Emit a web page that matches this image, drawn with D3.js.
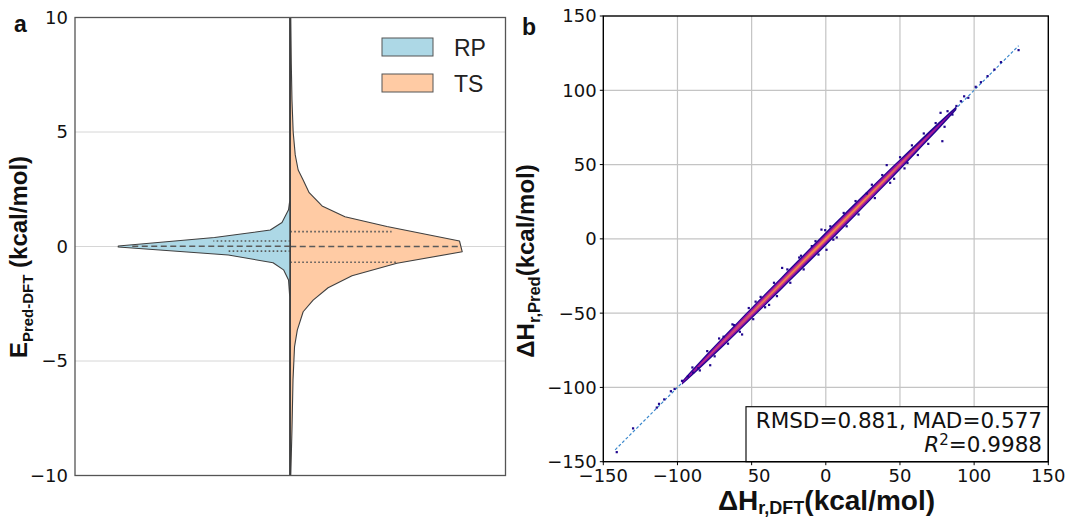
<!DOCTYPE html>
<html lang="en">
<head>
<meta charset="UTF-8">
<title>Violin and parity plot</title>
<script src="https://d3js.org/d3.v7.min.js"></script>
<style>
  body { margin: 0; background: #fff; }
  .tick-label { font-family: "DejaVu Sans", sans-serif; font-size: 18px; fill: #111; }
  .axis-title { font-family: "Liberation Sans", Arial, sans-serif; font-weight: bold; fill: #111; }
</style>
</head>
<body>
<svg id="chart" width="1068" height="518"></svg>
<script>
// ---- panel a: split violin (RP left, TS right) ----
const rpValues  = [10, 2.0, 1.6, 1.05, 0.72, 0.39, 0.02, -0.02, -0.37, -0.71, -1.02, -1.46, -2.2, -10];
const rpDensity = [0.003, 0.003, 0.01, 0.048, 0.116, 0.44, 1.0, 1.0, 0.36, 0.1, 0.039, 0.01, 0.003, 0.003];
const tsValues  = [10, 8, 6.4, 5, 4, 3.34, 2.9, 2.35, 1.77, 1.30, 0.87, 0.24, -0.23, -0.73, -1.28, -1.8, -2.34, -2.85, -3.65, -4.37, -5.83, -8, -10];
const tsDensity = [0.003, 0.006, 0.010, 0.017, 0.029, 0.046, 0.075, 0.11, 0.185, 0.318, 0.562, 0.984, 1.0, 0.62, 0.359, 0.22, 0.133, 0.075, 0.041, 0.025, 0.016, 0.010, 0.003];
const rpQuartiles = [0.24, 0.01, -0.2];
const rpQuartDensity = [0.447, 0.93, 0.36];
const tsQuartiles = [0.65, 0.0, -0.69];
const tsQuartDensity = [0.589, 0.984, 0.618];
const violinTicks = [-10, -5, 0, 5, 10];
const violinGroups = ["RP", "TS"];

// ---- panel b: parity plot ----
const parityTicks = [-150, -100, -50, 0, 50, 100, 150];
const parityXTickLabels = ["\u2212150", "\u2212100", "50", "0", "50", "100", "150"];
const parityYTickLabels = ["\u2212150", "\u2212100", "\u221250", "0", "50", "100", "150"];
const bandX      = [-97, -90, -80, -70, -60, -50, -40, -30, -20, -10, 0, 10, 20, 30, 40, 50, 60, 70, 80, 88];
const navyHalf   = [1.2, 2.0, 2.8, 3.3, 3.6, 3.8, 4.0, 4.2, 4.4, 4.5, 4.6, 4.5, 4.4, 4.2, 4.0, 3.6, 3.2, 2.7, 2.0, 1.2];
const purpleHalf = [0.3, 0.9, 1.6, 2.2, 2.6, 2.8, 3.0, 3.1, 3.2, 3.3, 3.3, 3.3, 3.2, 3.1, 2.9, 2.5, 1.9, 1.3, 0.6, 0];
const pinkHalf   = [0, 0, 0.5, 1.0, 1.4, 1.6, 1.8, 1.9, 2.0, 2.1, 2.1, 2.1, 2.0, 1.9, 1.7, 1.3, 0.8, 0.3, 0, 0];
const orangeHalf = [0, 0, 0, 0, 0, 0.3, 0.5, 0.7, 0.8, 0.9, 0.9, 0.9, 0.8, 0.7, 0.5, 0.2, 0, 0, 0, 0];
const sparseDFT  = [-141, -130, -114, -112.5, -109, -104.5, -102, -97, -93, -89.5, -86, -78, -69, -62, -56.5, -47.4, -38.3, -29.5, -16.8, -9.5, 0.4, -0.5, 7.3, -3, 27.6, 41, 43.3, 55, 77.3, 78.5, 85.3, 88, 91, 93.2, 96, 101, 104.5, 109, 113.6, 118, 129.9,
                    -90, -85, -80, -75, -72, -66, -63, -58, -52, -49, -44, -41, -35, -33, -26, -24, -18, -15, -7, -5, 3, 5, 12, 14, 20, 22, 31, 33, 38, 46, 50, 53, 58, 62, 66, 69, 74, 80, 82];
const sparsePred = [-143.5, -127.5, -113.5, -111, -108, -102.5, -101, -95.5, -92.5, -90, -87, -85, -65.8, -58, -64.3, -42.2, -44.4, -19.5, -11.3, -4.8, -7.3, 5.9, 1, 6.3, 30.6, 49.7, 37.8, 51.2, 84.9, 65.8, 83.7, 89.5, 92.7, 96, 95, 102.4, 105.5, 109.6, 114, 119, 127.1,
                    -86.5, -88.5, -75.5, -79, -67, -70.5, -57.5, -62.5, -46.5, -54, -39, -46, -29.5, -38.5, -20.5, -29.5, -12.5, -20.5, -1.5, -10.5, 8.5, -0.5, 17.5, 8.5, 25.5, 16.5, 36.5, 27.5, 43, 40.5, 55, 47.5, 63, 56.5, 71, 64, 78, 75.5, 86];
const parityLine = [-142, 130];

const svg = d3.select("#chart");

// ================= panel a =================
const aLeft = 75, aRight = 505.5, aTop = 17.5, aBottom = 475.5;
const yA = d3.scaleLinear().domain([-10, 10]).range([aBottom, aTop]);
const cx = (aLeft + aRight) / 2;
const wA = d3.scaleLinear().domain([0, 1]).range([0, 172]);

const ga = svg.append("g");
ga.selectAll(".grid").data([-5, 0, 5]).enter().append("line")
  .attr("x1", aLeft).attr("x2", aRight)
  .attr("y1", d => yA(d)).attr("y2", d => yA(d))
  .attr("stroke", "#d6d6d6").attr("stroke-width", 1);

function halfViolin(vals, dens, side, fill) {
  const pts = vals.map((v, i) => ({ v: v, d: dens[i] }));
  const area = d3.area()
    .y(d => yA(d.v))
    .x0(cx)
    .x1(d => cx + side * wA(d.d));
  ga.append("path").datum(pts)
    .attr("d", area)
    .attr("fill", fill)
    .attr("stroke", "#3f3f3f")
    .attr("stroke-width", 1.1)
    .attr("stroke-linejoin", "round");
}
halfViolin(rpValues, rpDensity, -1, "#add8e6");
halfViolin(tsValues, tsDensity, 1, "#ffcba4");

function quartileLines(qs, qd, side) {
  ga.selectAll(null).data(qs).enter().append("line")
    .attr("x1", cx).attr("x2", (d, i) => cx + side * wA(qd[i]))
    .attr("y1", d => yA(d)).attr("y2", d => yA(d))
    .attr("stroke", "#5a5a5a").attr("stroke-width", 1.6)
    .attr("stroke-dasharray", (d, i) => i === 1 ? "6,3.5" : "1.6,2.4");
}
quartileLines(rpQuartiles, rpQuartDensity, -1);
quartileLines(tsQuartiles, tsQuartDensity, 1);

// center line drawn by the thin tails
ga.append("line").attr("x1", cx).attr("x2", cx)
  .attr("y1", yA(10)).attr("y2", yA(-10))
  .attr("stroke", "#3f3f3f").attr("stroke-width", 1.4);

ga.append("rect").attr("x", aLeft).attr("y", aTop)
  .attr("width", aRight - aLeft).attr("height", aBottom - aTop)
  .attr("fill", "none").attr("stroke", "#555").attr("stroke-width", 1.3);

ga.selectAll(".ytl").data(violinTicks).enter().append("text")
  .attr("class", "tick-label")
  .attr("x", 68).attr("y", d => yA(d)).attr("dy", "0.36em")
  .attr("text-anchor", "end")
  .text(d => d < 0 ? "\u2212" + Math.abs(d) : d);

// legend
const legendColors = ["#add8e6", "#ffcba4"];
const lg = ga.selectAll(".leg").data(violinGroups).enter().append("g")
  .attr("transform", (d, i) => `translate(382,${38 + i * 36})`);
lg.append("rect").attr("width", 51).attr("height", 18)
  .attr("fill", (d, i) => legendColors[i]).attr("stroke", "#555").attr("stroke-width", 1);
lg.append("text").attr("x", 72).attr("y", 18)
  .style("font-family", "Liberation Sans, Arial, sans-serif").style("font-size", "23px")
  .attr("fill", "#222").text(d => d);

// y label a
const yla = ga.append("text").attr("class", "axis-title")
  .attr("transform", "translate(27,257) rotate(-90)")
  .attr("text-anchor", "middle").style("font-size", "24px");
yla.append("tspan").text("E");
yla.append("tspan").attr("dy", 6).style("font-size", "15px").text("Pred-DFT");
yla.append("tspan").attr("dy", -6).text(" (kcal/mol)");

svg.append("text").attr("class", "axis-title").attr("x", 14).attr("y", 32)
  .style("font-size", "23px").text("a");
svg.append("text").attr("class", "axis-title").attr("x", 522).attr("y", 35)
  .style("font-size", "23px").text("b");

// ================= panel b =================
const bLeft = 603.3, bRight = 1048.3, bTop = 16, bBottom = 461.7;
const xB = d3.scaleLinear().domain([-150, 150]).range([bLeft, bRight]);
const yB = d3.scaleLinear().domain([-150, 150]).range([bBottom, bTop]);
const gb = svg.append("g");

gb.selectAll(".gx").data(parityTicks.slice(1, -1)).enter().append("line")
  .attr("x1", d => xB(d)).attr("x2", d => xB(d)).attr("y1", bTop).attr("y2", bBottom)
  .attr("stroke", "#c4c4c4").attr("stroke-width", 1.2);
gb.selectAll(".gy").data(parityTicks.slice(1, -1)).enter().append("line")
  .attr("y1", d => yB(d)).attr("y2", d => yB(d)).attr("x1", bLeft).attr("x2", bRight)
  .attr("stroke", "#c4c4c4").attr("stroke-width", 1.2);

gb.append("line")
  .attr("x1", xB(parityLine[0])).attr("y1", yB(parityLine[0]))
  .attr("x2", xB(parityLine[1])).attr("y2", yB(parityLine[1]))
  .attr("stroke", "#3a88cc").attr("stroke-width", 1.2).attr("stroke-dasharray", "3,2");

const bandLayers = [
  { half: navyHalf, c: d3.interpolatePlasma(0.03) },
  { half: purpleHalf, c: d3.interpolatePlasma(0.3) },
  { half: pinkHalf, c: d3.interpolatePlasma(0.5) },
  { half: orangeHalf, c: d3.interpolatePlasma(0.72) }
];
bandLayers.forEach(layer => {
  const pts = bandX.map((x, i) => ({ x: x, h: layer.half[i] }));
  const area = d3.area()
    .x(d => xB(d.x))
    .y0(d => yB(d.x - d.h))
    .y1(d => yB(d.x + d.h))
    .curve(d3.curveMonotoneX);
  gb.append("path").datum(pts).attr("d", area).attr("fill", layer.c);
});

gb.selectAll(".sp").data(sparseDFT).enter().append("rect")
  .attr("x", d => xB(d) - 1).attr("y", (d, i) => yB(sparsePred[i]) - 1)
  .attr("width", 2.2).attr("height", 2.2)
  .attr("fill", d3.interpolatePlasma(0.03));

// text box
gb.append("rect").attr("x", 746).attr("y", 406.7)
  .attr("width", bRight - 746).attr("height", bBottom - 406.7)
  .attr("fill", "#fff").attr("stroke", "#111").attr("stroke-width", 1.2);
gb.append("text").attr("x", 1042).attr("y", 428.3).attr("text-anchor", "end")
  .style("font-family", "DejaVu Sans, sans-serif").style("font-size", "21.5px").attr("fill", "#111")
  .text("RMSD=0.881, MAD=0.577");
const r2 = gb.append("text").attr("x", 1042).attr("y", 452.3).attr("text-anchor", "end")
  .style("font-family", "DejaVu Sans, sans-serif").style("font-size", "21.5px").attr("fill", "#111");
r2.append("tspan").style("font-style", "italic").text("R");
r2.append("tspan").attr("dy", -7).style("font-size", "15px").text("2");
r2.append("tspan").attr("dy", 7).text("=0.9988");

gb.append("rect").attr("x", bLeft).attr("y", bTop)
  .attr("width", bRight - bLeft).attr("height", bBottom - bTop)
  .attr("fill", "none").attr("stroke", "#000").attr("stroke-width", 1.4);

// ticks
gb.selectAll(".tx").data(parityTicks).enter().append("line")
  .attr("x1", d => xB(d)).attr("x2", d => xB(d)).attr("y1", bBottom).attr("y2", bBottom + 3.5)
  .attr("stroke", "#000").attr("stroke-width", 1);
gb.selectAll(".ty").data(parityTicks).enter().append("line")
  .attr("y1", d => yB(d)).attr("y2", d => yB(d)).attr("x1", bLeft - 3.5).attr("x2", bLeft)
  .attr("stroke", "#000").attr("stroke-width", 1);
gb.selectAll(".txl").data(parityTicks).enter().append("text")
  .attr("class", "tick-label").attr("text-anchor", "middle")
  .attr("x", (d, i) => xB(d) + (parityXTickLabels[i][0] === "\u2212" || d >= 0 ? 0 : 7.5))
  .attr("y", 481.6)
  .text((d, i) => parityXTickLabels[i]);
gb.selectAll(".tyl").data(parityTicks).enter().append("text")
  .attr("class", "tick-label").attr("text-anchor", "end")
  .attr("x", 596.7).attr("y", d => yB(d)).attr("dy", "0.36em")
  .text((d, i) => parityYTickLabels[i]);

const xlb = gb.append("text").attr("class", "axis-title")
  .attr("x", 826.5).attr("y", 510).attr("text-anchor", "middle").style("font-size", "28px");
xlb.append("tspan").text("\u0394H");
xlb.append("tspan").attr("dy", 3.5).style("font-size", "18px").text("r,DFT");
xlb.append("tspan").attr("dy", -3.5).text("(kcal/mol)");

const ylb = gb.append("text").attr("class", "axis-title")
  .attr("transform", "translate(534,261) rotate(-90)")
  .attr("text-anchor", "middle").style("font-size", "24px");
ylb.append("tspan").text("\u0394H");
ylb.append("tspan").attr("dy", 6).style("font-size", "16.5px").text("r,Pred");
ylb.append("tspan").attr("dy", -6).text("(kcal/mol)");
</script>
</body>
</html>
